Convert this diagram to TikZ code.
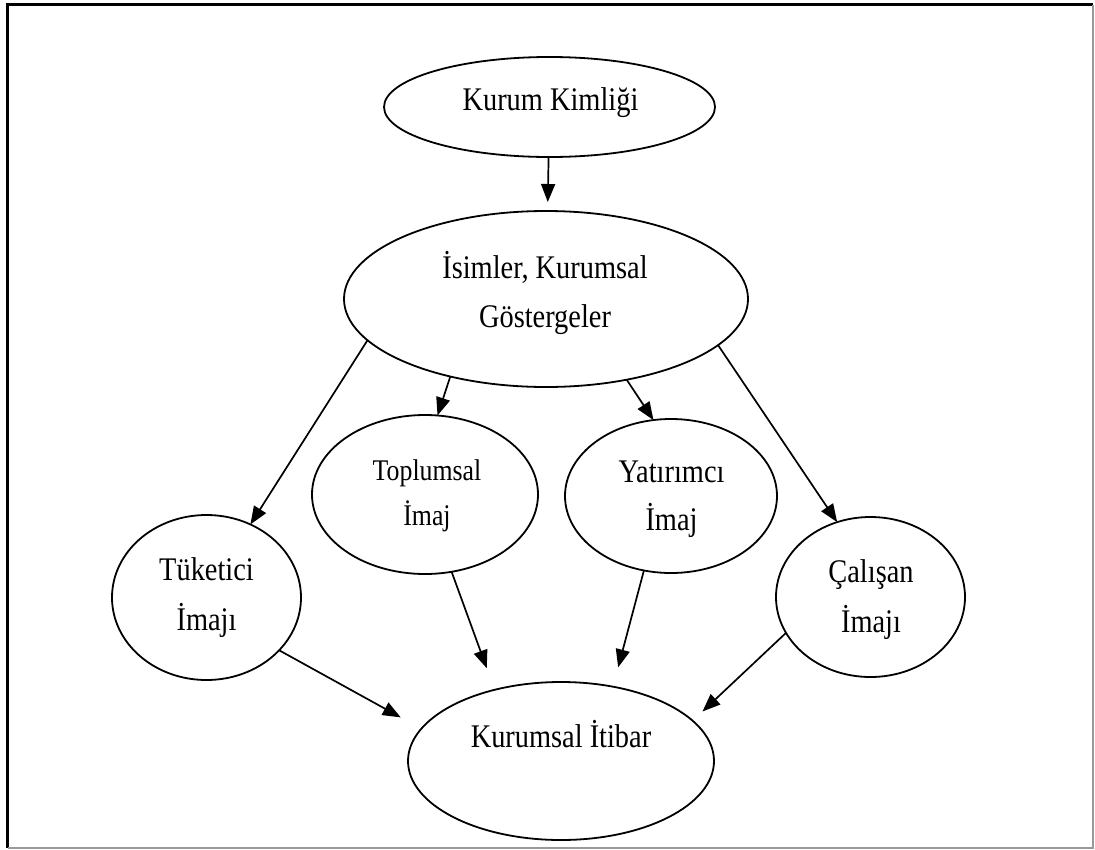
\documentclass[tikz,border=0pt]{standalone}
\usepackage{fontspec}
\setmainfont{Liberation Serif}[FakeStretch=0.86]
\usetikzlibrary{arrows.meta,shapes.geometric}
\begin{document}
\begin{tikzpicture}[x=1pt,y=-1pt,
  ell/.style={draw, ellipse, line width=1.8pt, inner sep=0pt, outer sep=0pt},
  lbl/.style={font=\fontsize{33}{48}\selectfont, align=center, anchor=base, inner sep=0pt},
  arr/.style={line width=1.7pt, -{Triangle[length=18pt,width=14pt]}}]
\useasboundingbox (0,0) rectangle (1095,849);
% frame
\draw[line width=2.2pt, black] (7.5,848) -- (7.5,4.5) -- (1093,4.5);
\draw[line width=1.2pt, black!40] (1093,4.5) -- (1093,848) -- (7.5,848);
% ellipses
\node[ell, minimum width=331pt, minimum height=100pt] (kimlik) at (549.5,107) {};
\node[ell, minimum width=404pt, minimum height=176pt] (isim) at (546,299) {};
\node[ell, minimum width=226pt, minimum height=159pt] (topl) at (425,494.5) {};
\node[ell, minimum width=212pt, minimum height=154pt] (yat) at (671,496) {};
\node[ell, minimum width=189pt, minimum height=165pt] (tuk) at (206.5,597.5) {};
\node[ell, minimum width=189pt, minimum height=160pt] (cal) at (870.5,597) {};
\node[ell, minimum width=306pt, minimum height=158pt] (itibar) at (561,761) {};
% texts (anchor=base is the baseline of the last line)
\node[lbl] (kimlikT) at (550.5,110) {Kurum Kimliği};
\node[lbl, font=\fontsize{33}{49}\selectfont] (isimT) at (545,327) {İsimler, Kurumsal\\Göstergeler};
\node[lbl, font=\fontsize{30}{45}\selectfont] (toplT) at (427,525) {Toplumsal\\İmaj};
\node[lbl] (yatT) at (671.5,530) {Yatırımcı\\İmaj};
\node[lbl, font=\fontsize{33}{50}\selectfont] (tukT) at (206.5,630) {Tüketici\\İmajı};
\node[lbl, font=\fontsize{33}{50}\selectfont] (calT) at (871,632) {Çalışan\\İmajı};
\node[lbl] (itibarT) at (561,747) {Kurumsal İtibar};
% arrows
\draw[arr, shorten >=9pt] (kimlik) -- (isim);
\draw[arr] (isim.193.6) -- (tuk.59.9);
\draw[arr] (isim.219.5) -- (topl.81.4);
\draw[arr] (isim.315.7) -- (yat.103.7);
\draw[arr] (isim.345) -- (cal.114);
\draw[arr, shorten >=23pt] (topl.289.7) -- (itibar.133);
\draw[arr, shorten >=20pt] (yat.250.3) -- (itibar.55.6);
\draw[arr, shorten >=23.5pt] (tuk.324.5) -- (itibar.167.4);
\draw[arr, shorten >=13.5pt] (cal.203.6) -- (itibar.17.3);
\end{tikzpicture}
\end{document}
